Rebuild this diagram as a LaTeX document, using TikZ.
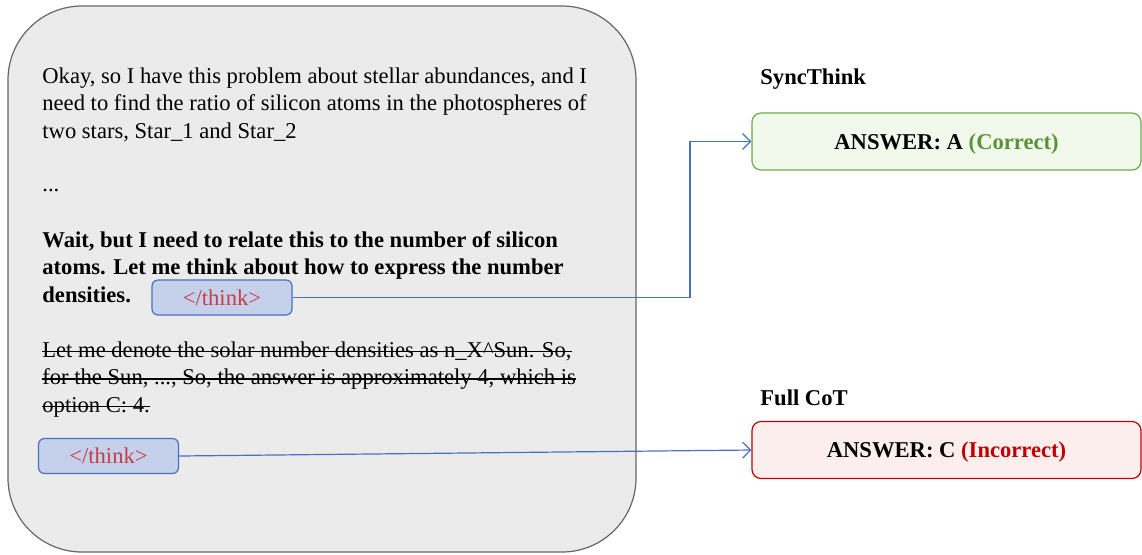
\documentclass[tikz,border=0pt]{standalone}
\usepackage{fontspec}
\setmainfont{Liberation Serif}
\usetikzlibrary{positioning,arrows.meta}

\definecolor{panelgray}{HTML}{EBEBEB}
\definecolor{panelline}{HTML}{666666}
\definecolor{tagfill}{HTML}{C5D0EA}
\definecolor{tagline}{HTML}{4472C4}
\definecolor{tagred}{HTML}{C83C46}
\definecolor{goodfill}{HTML}{F1F8EC}
\definecolor{goodline}{HTML}{70AD47}
\definecolor{goodtext}{HTML}{5B9236}
\definecolor{badfill}{HTML}{FDEEEE}
\definecolor{badline}{HTML}{C00000}

\newcommand{\basefont}{\fontsize{11.3}{13.75}\selectfont}

\tikzset{
  panelbox/.style={draw=panelline, fill=panelgray, line width=0.6pt, rounded corners=37pt},
  prose/.style={inner sep=0pt, align=left, font=\basefont},
  strike/.style={line width=0.6pt},
  thinktag/.style={draw=tagline, fill=tagfill, line width=0.6pt, rounded corners=3pt,
    minimum width=70pt, minimum height=17.5pt, inner sep=0pt, text=tagred, font=\basefont},
  answerbox/.style={line width=0.6pt, rounded corners=4.5pt, minimum width=194.5pt,
    minimum height=28.5pt, inner sep=0pt, text depth=0pt, font=\basefont\bfseries},
  headlabel/.style={inner sep=0pt, anchor=base west, font=\basefont\bfseries},
  link/.style={draw=tagline, line width=0.6pt, -{Straight Barb[length=4pt, width=8pt]}},
}

\begin{document}
\begin{tikzpicture}[x=0.5pt, y=-0.5pt]
\useasboundingbox (0,0) rectangle (1142,554);

\def\xl{42}
\def\xr{760}
\def\xturn{690}

\node (panel) [panelbox, minimum width=314pt, minimum height=273pt] at (322,279) {};

% base of a multi-line node is its last line
\node (intro) [prose, anchor=base west] at (\xl,138)
  {Okay, so I have this problem about stellar abundances, and I\\
   need to find the ratio of silicon atoms in the photospheres of\\
   two stars, Star\_1 and Star\_2};
\node (dots) [prose, anchor=base west] at (\xl,191) {...};
\node (wait) [prose, font=\basefont\bfseries, anchor=base west] at (\xl,302)
  {Wait, but I need to relate this to the number of silicon\\
   atoms. Let me think about how to express the number\\
   densities.};

\node (cut1) [prose, anchor=base west] at (\xl,357)
  {Let me denote the solar number densities as n\_X\textasciicircum Sun. So,};
\node (cut2) [prose, anchor=base west] at (\xl,384.5)
  {for the Sun, ..., So, the answer is approximately 4, which is};
\node (cut3) [prose, anchor=base west] at (\xl,412)
  {option C: 4.};
\foreach \c in {cut1,cut2,cut3}
  \draw[strike] ([yshift=2.8pt]\c.base west) -- ([yshift=2.8pt]\c.base east);

\node (early) [thinktag] at (222,297.5) {</think>};
\node (late) [thinktag] at (108.5,456) {</think>};

\node (synclabel) [headlabel] at (\xr,84) {SyncThink};
\node (fulllabel) [headlabel] at (\xr,405) {Full CoT};

\node (good) [answerbox, draw=goodline, fill=goodfill] at (946.5,141.5)
  {ANSWER: A \textcolor{goodtext}{(Correct)}};
\node (bad) [answerbox, draw=badline, fill=badfill] at (946.5,450)
  {ANSWER: C \textcolor{badline}{(Incorrect)}};

\coordinate (turn) at (\xturn,297.5);
\draw[link] (early.east) -- (turn) |- (good.west);
\draw[link] (late.east) -- (bad.west);

\end{tikzpicture}
\end{document}
